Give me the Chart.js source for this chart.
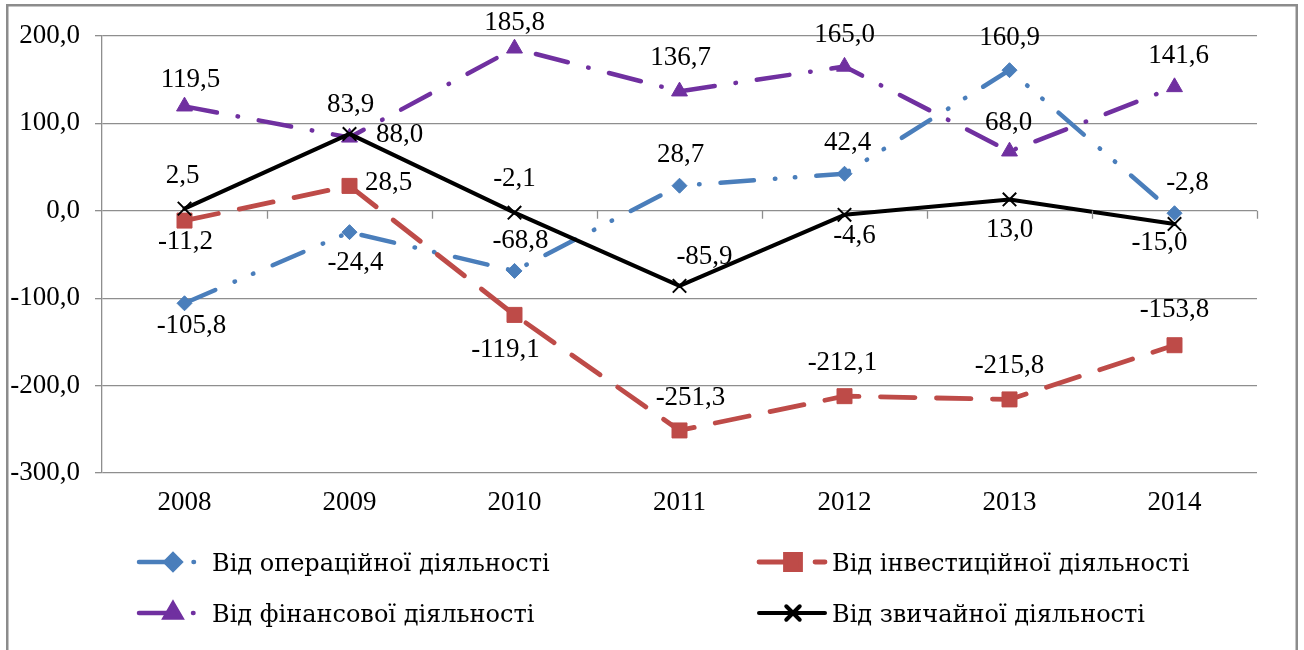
<!DOCTYPE html>
<html lang="uk">
<head>
<meta charset="utf-8">
<title>Грошові потоки підприємства, 2008–2014</title>
<script src="https://cdn.jsdelivr.net/npm/chart.js@4/dist/chart.umd.min.js"></script>
<style>
  html, body { margin: 0; padding: 0; background: #ffffff; }
  #wrap { position: relative; width: 1304px; height: 650px; }
</style>
</head>
<body>
<div id="wrap"><canvas id="cashflow"></canvas></div>
<script>
// Years on the category axis
const years = ['2008', '2009', '2010', '2011', '2012', '2013', '2014'];

// Cash flow by type of activity
const operating = [-105.8, -24.4, -68.8, 28.7, 42.4, 160.9, -2.8];
const investing = [-11.2, 28.5, -119.1, -251.3, -212.1, -215.8, -153.8];
const financing = [119.5, 83.9, 185.8, 136.7, 165.0, 68.0, 141.6];
const ordinary  = [2.5, 88.0, -2.1, -85.9, -4.6, 13.0, -15.0];

// Series names
const seriesNames = [
  'Від операційної діяльності',
  'Від інвестиційної діяльності',
  'Від фінансової діяльності',
  'Від звичайної діяльності'
];

// Value axis ticks
const yTicks = [200, 100, 0, -100, -200, -300];

// Label placement for each point: offset of label centre from the marker, px
const labelOffsets = [
  [[7, 23], [6, 31], [6, -30], [1, -31], [3, -31], [0, -32], [13, -30]],
  [[1, 21], [39, -3], [-9, 35], [11, -33], [-2, -33], [0, -34], [0, -35]],
  [[6, -26], [1, -33], [0, -26], [1, -33], [0, -32], [-1, -28], [4, -31]],
  [[-2, -33], [50, 1], [0, -34], [25, -29], [10, 21], [0, 30], [-15, 19]]
];

const SERIF = "'Liberation Serif', 'DejaVu Serif', 'Times New Roman', serif";
const CYR_SERIF = "'DejaVu Serif', 'Liberation Serif', serif";
const fmt = v => v.toFixed(1).replace('.', ',');

const styles = [
  { color: '#4a7ebb', dash: [33.5, 21, 0.5, 19.5, 0.5, 21], width: 4.5, point: 'rectRot', radius: 7.5, pbw: 1 },
  { color: '#be4b48', dash: [34.5, 21.5], width: 4.8, point: 'rect', radius: 10.6, pbw: 1 },
  { color: '#7030a0', dash: [33, 21, 0.5, 21], width: 4.5, point: 'triangle', radius: 9.2, pbw: 1 },
  { color: '#000000', dash: [], width: 4, point: 'crossRot', radius: 9.5, pbw: 2 }
];

const values = [operating, investing, financing, ordinary];

const datasets = values.map((vals, i) => ({
  label: seriesNames[i],
  data: vals,
  borderColor: styles[i].color,
  backgroundColor: styles[i].color,
  borderWidth: styles[i].width,
  borderDash: styles[i].dash,
  borderCapStyle: 'round',
  borderJoinStyle: 'round',
  pointStyle: styles[i].point,
  pointRadius: styles[i].radius,
  pointHoverRadius: styles[i].radius,
  pointBorderWidth: styles[i].pbw,
  pointBorderColor: styles[i].color,
  pointBackgroundColor: styles[i].color,
  tension: 0,
  fill: false,
  order: 4 - i
}));

// Outer frame of the chart
const framePlugin = {
  id: 'frame',
  beforeDraw(chart) {
    const ctx = chart.ctx;
    ctx.save();
    ctx.fillStyle = '#ffffff';
    ctx.fillRect(0, 0, chart.width, chart.height);
    ctx.strokeStyle = '#8c8c8c';
    ctx.lineWidth = 2.5;
    ctx.strokeRect(7.25, 5.25, 1289.5, 700);
    ctx.restore();
  }
};

// Short tick marks on the zero line between categories
const zeroTicksPlugin = {
  id: 'zeroTicks',
  afterDraw(chart) {
    const { ctx, scales: { x, y } } = chart;
    const y0 = y.getPixelForValue(0);
    const n = years.length;
    const step = x.getPixelForValue(1) - x.getPixelForValue(0);
    ctx.save();
    ctx.strokeStyle = '#8e8e8e';
    ctx.lineWidth = 1.3;
    ctx.beginPath();
    for (let k = 1; k <= n; k++) {
      const px = Math.round(x.getPixelForValue(k - 1) + step / 2) + 0.5;
      ctx.moveTo(px, y0);
      ctx.lineTo(px, y0 + 8);
    }
    ctx.stroke();
    ctx.restore();
  }
};

// Value labels next to each marker
const valueLabelsPlugin = {
  id: 'valueLabels',
  afterDatasetsDraw(chart) {
    const ctx = chart.ctx;
    ctx.save();
    ctx.font = '27px ' + SERIF;
    ctx.fillStyle = '#000000';
    ctx.textAlign = 'center';
    ctx.textBaseline = 'middle';
    chart.data.datasets.forEach((ds, i) => {
      const meta = chart.getDatasetMeta(i);
      meta.data.forEach((pt, j) => {
        const off = labelOffsets[i][j];
        ctx.fillText(fmt(ds.data[j]), pt.x + off[0], pt.y + off[1]);
      });
    });
    ctx.restore();
  }
};

// Two-column legend under the plot
const legendPlugin = {
  id: 'twoColLegend',
  afterDraw(chart) {
    const ctx = chart.ctx;
    const cols = [137, 757];
    const rows = [562, 613];
    const slots = [[0, 0], [1, 0], [0, 1], [1, 1]];
    chart.data.datasets.forEach((ds, i) => {
      const st = styles[i];
      const x0 = cols[slots[i][0]];
      const yy = rows[slots[i][1]];
      ctx.save();
      ctx.strokeStyle = st.color;
      ctx.lineWidth = st.width;
      ctx.lineCap = 'round';
      ctx.setLineDash(st.dash);
      ctx.beginPath();
      ctx.moveTo(x0 + 2, yy);
      ctx.lineTo(x0 + 68, yy);
      ctx.stroke();
      ctx.setLineDash([]);
      ctx.fillStyle = st.color;
      Chart.helpers.drawPoint(ctx, {
        pointStyle: st.point,
        radius: st.radius,
        borderWidth: st.pbw,
        rotation: 0
      }, x0 + 36, yy);
      ctx.fillStyle = '#000000';
      ctx.font = '24px ' + CYR_SERIF;
      ctx.textAlign = 'left';
      ctx.textBaseline = 'middle';
      ctx.fillText(ds.label, x0 + 75, yy + 3);
      ctx.restore();
    });
  }
};

new Chart(document.getElementById('cashflow'), {
  type: 'line',
  data: { labels: years, datasets },
  options: {
    responsive: true,
    maintainAspectRatio: false,
    animation: false,
    layout: { padding: { top: 36, right: 47, left: 0, bottom: 0 } },
    plugins: {
      legend: { display: false },
      tooltip: { enabled: false },
      title: { display: false }
    },
    scales: {
      x: {
        type: 'category',
        offset: true,
        grid: { display: false, drawTicks: false },
        border: { display: false },
        ticks: {
          color: '#000000',
          font: { family: SERIF, size: 27 },
          padding: 14,
          maxRotation: 0,
          autoSkip: false
        },
        afterFit(scale) { scale.height = 177; }
      },
      y: {
        min: -300,
        max: 200,
        afterBuildTicks(scale) { scale.ticks = yTicks.map(v => ({ value: v })); },
        grid: {
          color: '#8e8e8e',
          lineWidth: 1.3,
          tickLength: 7,
          drawTicks: true
        },
        border: { display: true, color: '#8e8e8e', width: 1.3 },
        ticks: {
          color: '#000000',
          font: { family: SERIF, size: 27 },
          padding: 15,
          callback: v => fmt(v)
        },
        afterFit(scale) { scale.width = 102; }
      }
    }
  },
  plugins: [framePlugin, zeroTicksPlugin, valueLabelsPlugin, legendPlugin]
});
</script>
</body>
</html>
